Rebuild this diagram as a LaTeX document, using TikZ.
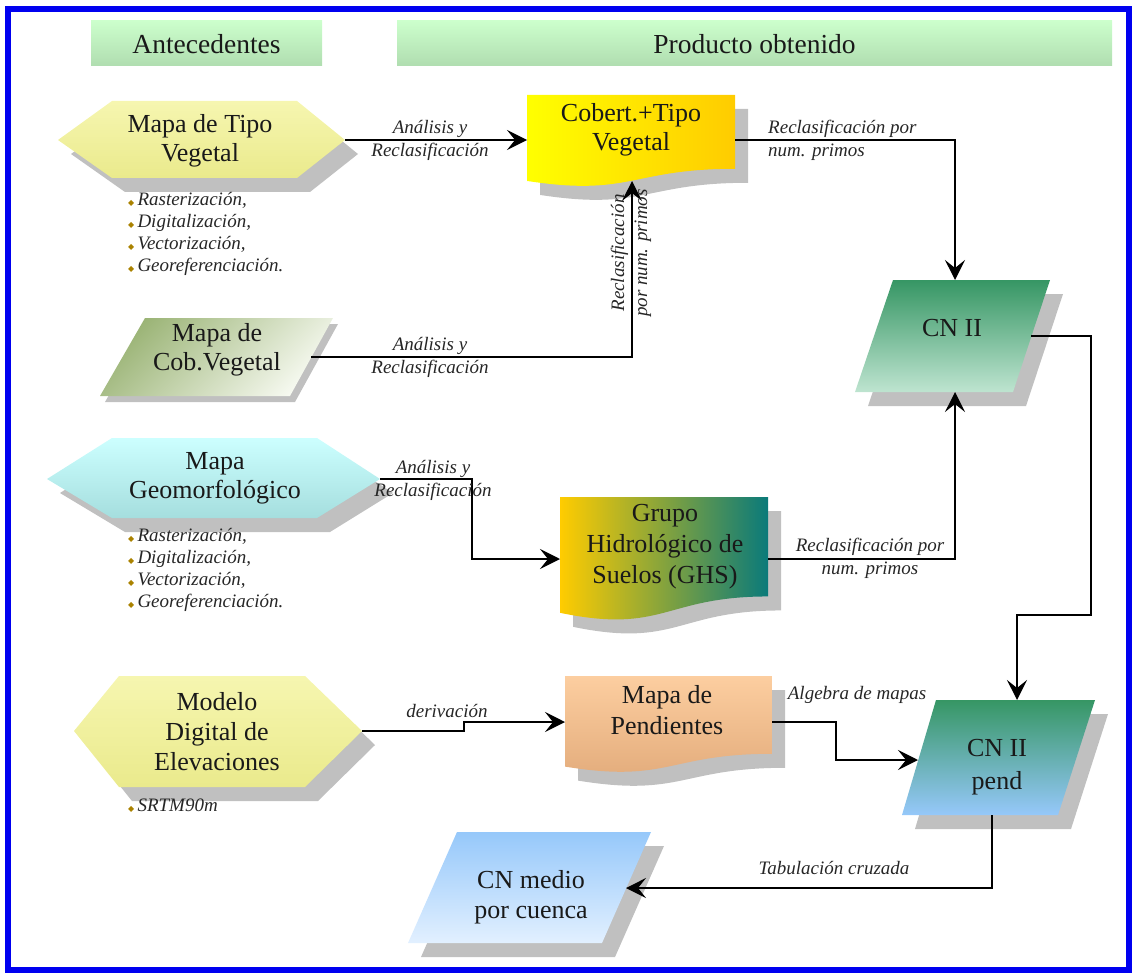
\documentclass[tikz,border=0pt]{standalone}
\usepackage{fontspec}
\setmainfont{Liberation Serif}
\newfontfamily\dejavu{DejaVu Sans}
\usetikzlibrary{arrows.meta,calc}
\definecolor{frameblue}{RGB}{0,0,240}
\definecolor{shadowc}{RGB}{192,192,192}
\definecolor{hdrtop}{RGB}{204,255,204}
\definecolor{hdrbot}{RGB}{176,221,176}
\definecolor{yeltop}{RGB}{246,246,176}
\definecolor{yelbot}{RGB}{234,234,140}
\definecolor{cyantop}{RGB}{204,255,255}
\definecolor{cyanbot}{RGB}{165,222,222}
\definecolor{olivedark}{RGB}{155,180,118}
\definecolor{olivelight}{RGB}{246,249,240}
\definecolor{goldc}{RGB}{255,204,0}
\definecolor{yelc}{RGB}{255,255,0}
\definecolor{tealc}{RGB}{10,122,122}
\definecolor{tanc}{RGB}{180,160,100}
\definecolor{peachtop}{RGB}{252,206,160}
\definecolor{peachbot}{RGB}{226,170,122}
\definecolor{cngreen}{RGB}{54,150,100}
\definecolor{cnlight}{RGB}{190,228,208}
\definecolor{skyblue}{RGB}{150,200,250}
\definecolor{skylight}{RGB}{226,240,255}
\definecolor{bulletc}{RGB}{170,130,0}
\newcommand\shx{13}
\newcommand\shy{14}
% hexagon: leftx, cy, x1, x2, rightx, top, bottom, shading
\newcommand\hexshape[8]{%
  \fill[shadowc, shift={(\shx,\shy)}] (#1,#2) -- (#3,#6) -- (#4,#6) -- (#5,#2) -- (#4,#7) -- (#3,#7) -- cycle;
  \shade[#8] (#1,#2) -- (#3,#6) -- (#4,#6) -- (#5,#2) -- (#4,#7) -- (#3,#7) -- cycle;}
% document: x1, top, x2, H, shading
\newcommand\docshape[5]{%
  \fill[shadowc, shift={(\shx,\shy)}] (#1,#2) -- (#3,#2) -- (#3,{#2+0.802*#4}) .. controls ({(#1+#3)/2},{#2+0.802*#4}) and ({(#1+#3)/2},{#2+1.1075*#4}) .. (#1,{#2+0.934*#4}) -- cycle;
  \shade[#5] (#1,#2) -- (#3,#2) -- (#3,{#2+0.802*#4}) .. controls ({(#1+#3)/2},{#2+0.802*#4}) and ({(#1+#3)/2},{#2+1.1075*#4}) .. (#1,{#2+0.934*#4}) -- cycle;}
% parallelogram: top, bottom, tl, tr, bl, br, shading
\newcommand\parashape[7]{%
  \fill[shadowc, shift={(\shx,\shy)}] (#3,#1) -- (#4,#1) -- (#6,#2) -- (#5,#2) -- cycle;
  \shade[#7] (#3,#1) -- (#4,#1) -- (#6,#2) -- (#5,#2) -- cycle;}
\newcommand\bul{{\dejavu\fontsize{8}{8}\selectfont\textcolor{bulletc}{◆}}\,}
\tikzset{
  maintext/.style={font=\fontsize{26}{29}\selectfont, align=center, inner sep=0pt, text=black!90},
  hdrtext/.style={font=\fontsize{27.5}{30}\selectfont, inner sep=0pt, text=black!90},
  lab/.style={font=\fontsize{19}{23}\selectfont\itshape, align=center, inner sep=0pt, text=black!85},
  bullets/.style={font=\fontsize{19}{22}\selectfont\itshape, align=left, inner sep=0pt, anchor=west, text=black!85},
  conn/.style={line width=1.5pt, -{Stealth[length=20pt,width=20pt,inset=8pt]}},
  hdr/.style={top color=hdrtop, bottom color=hdrbot},
}
\begin{document}
\begin{tikzpicture}[x=1pt,y=-1pt]
\useasboundingbox (0,0) rectangle (1134,976);
\draw[frameblue, line width=6pt] (8,9) rectangle (1129,970);

% headers
\shade[hdr] (91,21) rectangle (322,66);
\node[hdrtext] (hA) at (206.5,44) {Antecedentes};
\shade[hdr] (397,21) rectangle (1112,66);
\node[hdrtext] (hP) at (754.5,44) {Producto obtenido};

% Mapa de Tipo Vegetal
\hexshape{58}{140}{112}{297}{345}{101}{178}{top color=yeltop,bottom color=yelbot}
\node[maintext] (tv) at (200,141) {Mapa de Tipo\\Vegetal};
\coordinate (tv-e) at (345,140);
\node[bullets] (tvb) at (128,234) {\bul Rasterización,\\\bul Digitalización,\\\bul Vectorización,\\\bul Georeferenciación.};

% Cobert + Tipo Vegetal
\docshape{527}{95}{735}{92}{left color=yelc,right color=goldc}
\node[maintext] (cob) at (631,130) {Cobert.+Tipo\\Vegetal};
\coordinate (cob-w) at (527,140);
\coordinate (cob-s) at (632,181);
\coordinate (cob-e) at (735,140);

% Mapa de Cob.Vegetal
\renewcommand\shx{5}\renewcommand\shy{6}
\parashape{318}{396}{145}{333}{100}{290}{top color=olivedark,bottom color=olivelight,shading angle=45}
\renewcommand\shx{13}\renewcommand\shy{14}
\node[maintext] (cobv) at (217,350) {Mapa de\\Cob.Vegetal};
\coordinate (cobv-e) at (311,357);

% CN II
\parashape{280}{392}{893}{1050}{855}{1013}{top color=cngreen,bottom color=cnlight}
\node[maintext] (cn2) at (952,328) {CN II};
\coordinate (cn2-n) at (955,280);
\coordinate (cn2-s) at (955,392);
\coordinate (cn2-e) at (1031,336);

% Mapa Geomorfologico
\hexshape{47}{479}{112}{317}{380}{438}{518}{top color=cyantop,bottom color=cyanbot}
\node[maintext] (geo) at (215,478) {Mapa\\Geomorfológico};
\coordinate (geo-e) at (380,479);
\node[bullets] (geob) at (128,570) {\bul Rasterización,\\\bul Digitalización,\\\bul Vectorización,\\\bul Georeferenciación.};

% GHS
\docshape{560}{497}{768}{124}{left color=goldc,middle color=tanc,right color=tealc}
\node[maintext, font=\fontsize{26}{31}\selectfont] (ghs) at (665,547) {Grupo\\Hidrológico de\\Suelos (GHS)};
\coordinate (ghs-w) at (560,559);
\coordinate (ghs-e) at (768,559);

% DEM
\hexshape{74}{731}{119}{305}{362}{676}{787}{top color=yeltop,bottom color=yelbot}
\node[maintext, font=\fontsize{26}{30}\selectfont] (dem) at (217,732) {Modelo\\Digital de\\Elevaciones};
\coordinate (dem-e) at (362,731);
\node[bullets] (demb) at (128,806) {\bul SRTM90m};

% Pendientes
\docshape{565}{676}{772}{97}{top color=peachtop,bottom color=peachbot}
\node[maintext, font=\fontsize{26}{31}\selectfont] (pen) at (667,710) {Mapa de\\Pendientes};
\coordinate (pen-w) at (565,722);
\coordinate (pen-e) at (772,722);

% CN II pend
\parashape{700}{815}{936}{1095}{902}{1058}{top color=cngreen,bottom color=skyblue}
\node[maintext, font=\fontsize{26}{33}\selectfont] (cnp) at (997,767) {CN II\\pend};
\coordinate (cnp-n) at (1017,700);
\coordinate (cnp-w) at (918,760);
\coordinate (cnp-s) at (992,815);

% CN medio
\parashape{832}{943}{457}{651}{408}{602}{top color=skyblue,bottom color=skylight}
\node[maintext, font=\fontsize{26}{30}\selectfont] (cnm) at (531,897) {CN medio\\por cuenca};
\coordinate (cnm-e) at (626,888);

% connectors
\draw[conn] (tv-e) -- (cob-w);
\node[lab] (l1) at (430,140) {Análisis y\\Reclasificación};
\draw[conn] (cobv-e) -| (cob-s);
\node[lab] (l2) at (430,357) {Análisis y\\Reclasificación};
\node[lab, rotate=90] (l3) at (631,253) {Reclasificación\\por num. primos};
\draw[conn] (cob-e) -| (cn2-n);
\node[lab, align=left, anchor=west] (l4) at (768,140) {Reclasificación por\\num. primos};
\draw[conn] (geo-e) -- (472,479) |- (ghs-w);
\node[lab] (l5) at (433,480) {Análisis y\\Reclasificación};
\draw[conn] (ghs-e) -| (cn2-s);
\node[lab] (l6) at (870,558) {Reclasificación por\\num. primos};
\draw[conn] (cn2-e) -| (1091,615) -| (cnp-n);
\draw[conn] (dem-e) -- (464,731) |- (pen-w);
\node[lab] (l7) at (447,711) {derivación};
\draw[conn] (pen-e) -- (836,722) |- (cnp-w);
\node[lab] (l8) at (857,695) {Algebra de mapas};
\draw[conn] (cnp-s) |- (cnm-e);
\node[lab] (l9) at (834,868) {Tabulación cruzada};
\end{tikzpicture}
\end{document}
